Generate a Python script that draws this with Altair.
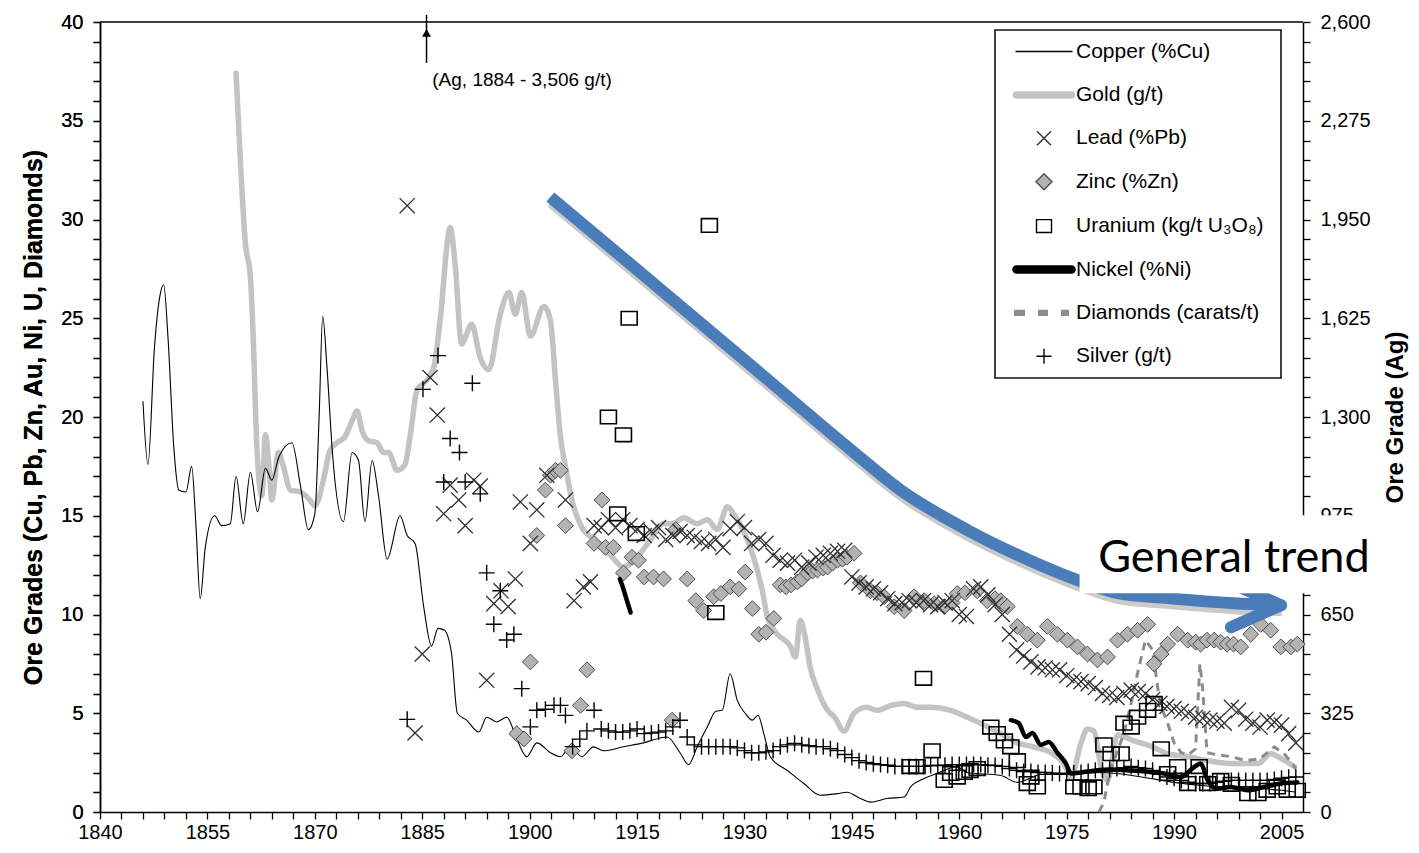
import altair as alt
import pandas as pd

# ---------------- data ----------------
series_names = ["Copper (%Cu)", "Gold (g/t)", "Lead (%Pb)", "Zinc (%Zn)",
                "Uranium  (kg/t U₃O₈)", "Nickel (%Ni)", "Diamonds (carats/t)", "Silver (g/t)"]

copper_points = [
    (1846.0, 20.8), (1846.7, 17.6), (1847.6, 23.5), (1848.4, 26.2), (1848.9, 26.7), (1849.5, 24.0),
    (1850.3, 18.5), (1851.0, 16.3), (1852.0, 16.2), (1852.8, 17.5), (1853.4, 14.5), (1854.0, 10.8),
    (1854.7, 13.4), (1856.0, 15.0), (1857.0, 14.5), (1858.2, 14.6), (1859.0, 17.0), (1860.0, 14.6),
    (1861.0, 17.2), (1862.0, 15.2), (1863.1, 17.4), (1864.0, 16.8), (1865.0, 18.0), (1866.8, 18.7),
    (1868.0, 16.5), (1869.1, 14.3), (1870.0, 15.1), (1870.6, 20.0), (1871.1, 25.1), (1871.7, 22.5),
    (1872.5, 18.0), (1874.0, 14.7), (1875.2, 18.2), (1876.1, 17.8), (1877.0, 14.7), (1878.0, 17.8),
    (1878.9, 16.0), (1880.1, 12.8), (1881.9, 15.0), (1882.9, 14.0), (1884.0, 13.6), (1885.2, 10.4),
    (1886.3, 8.4), (1887.2, 9.3), (1888.1, 9.2), (1889.1, 8.0), (1889.9, 5.0), (1891.2, 4.65),
    (1892.9, 4.05), (1894.0, 4.8), (1895.4, 4.56), (1896.8, 4.8), (1898.2, 3.7), (1899.6, 2.8),
    (1901.0, 3.5), (1902.9, 3.0), (1904.3, 2.8), (1905.7, 3.3), (1907.3, 2.8), (1908.9, 3.3),
    (1910.3, 3.1), (1913.1, 3.3), (1915.9, 3.5), (1919.2, 3.8), (1921.0, 3.0), (1922.2, 2.4),
    (1923.4, 3.3), (1924.8, 4.3), (1926.0, 5.1), (1926.9, 5.15), (1928.0, 7.0), (1929.0, 5.65),
    (1930.1, 5.0), (1931.1, 4.65), (1931.9, 4.9), (1932.7, 3.97), (1933.6, 2.8), (1936.0, 2.1),
    (1938.3, 1.44), (1940.6, 0.85), (1943.0, 0.93), (1944.3, 1.0), (1946.2, 0.68), (1947.6, 0.5),
    (1949.9, 0.68), (1952.3, 0.76), (1953.2, 1.27), (1955.1, 1.7), (1956.9, 1.95), (1959.7, 2.3),
    (1961.0, 2.0), (1965.8, 1.85), (1968.1, 1.5), (1971.4, 1.9), (1975.0, 1.9), (1980.0, 2.0),
    (1985.0, 1.8), (1990.0, 1.5), (1995.0, 1.3), (2000.0, 1.2), (2005.0, 1.1), (2007.0, 1.0),
]

gold_points = [
    (1859.0, 37.4), (1859.6, 33.0), (1860.3, 28.8), (1861.0, 27.1), (1861.4, 24.0), (1861.9, 18.5),
    (1862.6, 16.0), (1863.1, 19.1), (1863.6, 17.5), (1864.0, 15.8), (1864.9, 18.2), (1865.6, 17.5),
    (1866.6, 16.3), (1868.0, 16.2), (1869.3, 15.8), (1870.0, 15.5), (1871.2, 16.8), (1872.1, 18.3),
    (1873.1, 18.7), (1874.2, 19.0), (1875.2, 19.8), (1875.9, 20.3), (1876.6, 19.3), (1877.5, 18.8),
    (1878.7, 18.7), (1879.6, 18.2), (1880.3, 18.2), (1881.5, 17.3), (1882.6, 17.6), (1883.3, 19.0),
    (1884.3, 21.4), (1885.2, 21.7), (1886.6, 22.5), (1887.5, 24.9), (1888.9, 29.6), (1889.6, 27.7),
    (1890.5, 23.7), (1891.9, 24.7), (1893.1, 23.0), (1894.3, 22.4), (1895.9, 25.2), (1897.1, 26.3),
    (1898.0, 25.2), (1898.9, 26.3), (1900.1, 24.1), (1902.0, 25.6), (1902.9, 24.9), (1903.6, 21.9),
    (1904.3, 19.0), (1905.0, 17.5), (1905.9, 15.8), (1907.3, 14.4), (1909.0, 13.8), (1911.3, 13.0),
    (1913.1, 12.4), (1915.0, 12.9), (1916.9, 13.8), (1918.7, 14.6), (1920.0, 14.6), (1921.5, 14.9),
    (1923.4, 14.6), (1924.8, 14.8), (1926.2, 14.3), (1927.6, 15.45), (1928.5, 15.1), (1929.9, 14.2),
    (1931.0, 13.2), (1932.5, 11.2), (1933.2, 9.9), (1934.6, 9.0), (1936.4, 8.4), (1937.1, 7.85),
    (1937.8, 9.7), (1938.4, 9.0), (1939.2, 7.3), (1940.2, 6.2), (1941.6, 5.15), (1942.6, 4.8),
    (1943.9, 4.1), (1945.3, 5.0), (1947.0, 5.3), (1948.5, 5.15), (1950.5, 5.4), (1952.3, 5.5),
    (1954.1, 5.3), (1956.0, 5.3), (1958.8, 5.15), (1961.1, 4.8), (1963.5, 4.4), (1965.8, 3.97),
    (1968.1, 3.5), (1970.4, 3.3), (1972.8, 3.0), (1974.6, 2.45), (1975.6, 1.77), (1977.0, 3.5),
    (1977.9, 4.2), (1978.8, 4.1), (1979.8, 2.3), (1980.7, 1.6), (1982.1, 3.9), (1984.4, 3.6),
    (1987.0, 3.3), (1989.1, 2.95), (1992.0, 2.8), (1994.7, 2.6), (1998.0, 2.45), (2001.7, 2.45),
    (2003.5, 2.95), (2005.4, 2.6), (2006.8, 2.3),
]

lead_early_points = [
    (1882.9, 30.7), (1884.0, 4.0), (1885.0, 8.0), (1886.1, 22.0), (1887.1, 20.1), (1888.0, 15.1),
    (1888.9, 16.55), (1890.1, 15.8), (1891.0, 14.5), (1892.2, 16.8), (1893.1, 16.5), (1894.0, 6.67),
    (1895.0, 10.55), (1896.0, 11.2), (1897.0, 10.4), (1898.0, 11.8), (1898.7, 15.7), (1900.1, 13.6),
    (1901.0, 15.3), (1902.4, 17.05), (1905.0, 15.8), (1906.2, 10.7), (1907.5, 11.4), (1908.5, 11.65),
]
lead_annual_years = list(range(1909, 2008))
lead_annual_values = [
    14.5, 14.4, 14.8, 14.4, 14.8, 14.5, 14.3, 14.0, 14.2, 14.4,
    13.8, 14.0, 14.2, 14.0, 13.9, 13.7, 13.6, 13.8, 13.4, 14.35,
    14.7, 14.4, 13.6, 13.8, 13.6, 13.0, 12.75, 12.6, 12.75, 12.4,
    12.6, 12.9, 13.0, 13.1, 13.2, 13.25, 11.9, 11.6, 11.4, 11.3,
    11.1, 10.8, 10.55, 10.6, 10.7, 10.6, 10.7, 10.5, 10.4, 10.6,
    10.7, 10.0, 9.9, 11.3, 11.4, 11.0, 10.5, 10.0, 9.0, 8.2,
    7.9, 7.6, 7.35, 7.3, 7.2, 7.2, 6.9, 6.7, 6.6, 6.5,
    6.3, 6.0, 5.9, 5.8, 6.0, 6.17, 6.1, 6.0, 5.7, 5.5,
    5.35, 5.24, 5.1, 5.0, 4.8, 4.75, 4.65, 4.6, 4.5, 5.3,
    5.15, 4.7, 4.5, 4.3, 4.65, 4.55, 4.4, 3.97, 3.5,
]

zinc_points = [
    (1898.2, 3.97), (1899.2, 3.7), (1900.1, 7.6), (1901.0, 14.0), (1902.2, 16.3), (1902.9, 17.05),
    (1903.6, 17.3), (1904.3, 17.3), (1905.0, 14.5), (1905.9, 3.1), (1907.1, 5.4), (1908.0, 7.2),
    (1909.0, 13.6), (1910.1, 15.8), (1910.6, 13.4), (1911.7, 13.4), (1913.1, 12.1), (1914.3, 12.9),
    (1915.2, 12.75), (1916.0, 11.9), (1917.3, 11.9), (1918.7, 11.8), (1919.9, 4.65), (1920.4, 14.3),
    (1922.0, 11.8), (1923.2, 10.7), (1924.3, 10.2), (1925.7, 10.9), (1926.7, 11.06), (1928.0, 11.4),
    (1929.2, 11.3), (1930.1, 12.15), (1931.1, 10.3), (1932.0, 9.0), (1933.0, 9.1), (1934.1, 9.8),
    (1935.0, 11.5), (1935.8, 11.4), (1936.5, 11.5), (1937.4, 11.65), (1938.0, 11.8), (1938.8, 12.1),
    (1939.5, 12.2), (1940.2, 12.25), (1941.0, 12.35), (1941.6, 12.4), (1942.3, 12.6), (1943.0, 12.75),
    (1943.7, 12.8), (1944.3, 12.9), (1945.3, 13.1), (1946.2, 11.6), (1947.6, 11.2), (1948.5, 11.1),
    (1949.5, 10.9), (1950.9, 10.4), (1952.3, 10.2), (1953.7, 10.9), (1955.1, 10.7), (1956.5, 10.55),
    (1957.9, 10.4), (1959.0, 10.6), (1959.7, 11.06), (1960.8, 11.1), (1962.5, 11.2), (1963.9, 10.7),
    (1965.0, 10.8), (1965.8, 10.7), (1966.7, 10.4), (1968.1, 9.4), (1969.5, 9.0), (1970.9, 8.7),
    (1972.3, 9.4), (1973.7, 9.0), (1975.1, 8.7), (1976.5, 8.36), (1977.9, 8.0), (1979.3, 7.7),
    (1980.7, 7.85), (1982.1, 8.7), (1983.5, 9.0), (1984.9, 9.2), (1986.3, 9.5), (1987.2, 7.5),
    (1988.2, 8.0), (1989.1, 8.5), (1990.5, 9.0), (1991.9, 8.7), (1993.0, 8.6), (1993.7, 8.5),
    (1994.6, 8.7), (1995.6, 8.7), (1996.5, 8.6), (1997.4, 8.5), (1998.3, 8.5), (1999.3, 8.36),
    (2000.7, 9.0), (2002.1, 9.5), (2003.5, 9.2), (2004.9, 8.36), (2006.3, 8.36), (2007.2, 8.5),
]

uranium_points = [
    (1911.0, 20.0), (1912.3, 15.1), (1913.1, 19.1), (1913.9, 25.0), (1914.9, 14.1), (1925.1, 29.7),
    (1926.0, 10.1), (1955.0, 6.77), (1953.2, 2.3), (1954.1, 2.3), (1956.2, 3.1), (1957.9, 1.6),
    (1958.8, 1.95), (1959.7, 1.77), (1960.7, 2.0), (1961.5, 2.1), (1962.5, 2.2), (1964.4, 4.3),
    (1965.3, 3.97), (1966.3, 3.6), (1967.2, 3.3), (1968.1, 2.6), (1969.5, 1.44), (1970.0, 1.77),
    (1970.9, 1.27), (1976.0, 1.27), (1977.0, 1.27), (1978.0, 1.18), (1978.8, 1.27), (1980.2, 3.4),
    (1981.2, 2.95), (1982.6, 2.95), (1983.0, 4.5), (1984.0, 4.3), (1984.9, 4.8), (1986.3, 5.15),
    (1987.2, 5.5), (1988.2, 3.2), (1989.1, 1.95), (1990.5, 2.3), (1991.9, 1.44), (1993.5, 2.3),
    (1994.7, 1.44), (1996.5, 1.6), (1998.0, 1.4), (2000.3, 0.93), (2001.7, 0.93), (2003.0, 1.1),
    (2004.4, 1.27), (2005.8, 1.1), (2007.2, 1.1),
]

nickel_points = [
    ("a", 1912.6, 11.8), ("a", 1913.0, 11.4), ("a", 1913.5, 10.8), ("a", 1914.1, 10.1),
    ("b", 1967.2, 4.65), ("b", 1968.3, 4.5), ("b", 1969.3, 3.8), ("b", 1970.2, 4.0), ("b", 1971.4, 3.4),
    ("b", 1972.5, 3.55), ("b", 1973.7, 3.0), ("b", 1974.9, 2.45), ("b", 1975.6, 1.95), ("b", 1977.0, 2.0),
    ("b", 1979.0, 2.1), ("b", 1981.0, 2.15), ("b", 1984.0, 2.1), ("b", 1986.0, 2.05), ("b", 1988.6, 1.95),
    ("b", 1991.0, 1.77), ("b", 1992.8, 2.28), ("b", 1993.7, 2.45), ("b", 1994.7, 1.6), ("b", 1996.0, 1.18),
    ("b", 1997.9, 1.27), ("b", 2000.3, 1.1), ("b", 2002.6, 1.27), ("b", 2004.9, 1.44), ("b", 2007.2, 1.5),
]

diamond_points = [
    (1979.5, 0.0), (1980.2, 0.5), (1981.0, 2.0), (1982.0, 3.0), (1983.0, 4.0), (1984.0, 5.5),
    (1985.0, 7.2), (1986.0, 8.7), (1987.0, 8.2), (1988.0, 5.5), (1989.0, 4.6), (1990.0, 3.5),
    (1991.0, 3.0), (1992.0, 2.9), (1993.0, 3.2), (1993.6, 7.5), (1994.0, 6.2), (1994.6, 3.0),
    (1996.0, 2.9), (1998.0, 2.8), (2000.0, 2.6), (2002.0, 2.7), (2004.0, 3.3), (2005.5, 2.9),
    (2007.0, 2.2),
]

# silver in g/t (right axis)
silver_early_points = [
    (1882.9, 305), (1885.1, 1391), (1887.2, 1502), (1888.0, 1086), (1888.9, 1229), (1890.2, 1183),
    (1891.0, 1086), (1892.0, 1411), (1893.1, 1047), (1894.0, 787), (1895.0, 618), (1895.9, 728),
    (1896.8, 566), (1897.8, 585), (1898.9, 406), (1900.1, 280), (1901.0, 335), (1902.2, 338),
    (1903.4, 351), (1904.3, 351),
]
silver_annual_years = list(range(1905, 2008))
silver_annual_values = [
    318, 215, 240, 267, 335, 273, 267, 263, 263, 267,
    273, 258, 260, 263, 267, 280, 302, 247, 221, 215,
    215, 215, 215, 215, 211, 202, 195, 195, 198, 202,
    215, 221, 226, 221, 218, 215, 215, 208, 202, 189,
    179, 169, 163, 159, 156, 154, 150, 150, 150, 150,
    150, 153, 153, 154, 156, 156, 156, 156, 156, 154,
    153, 150, 143, 137, 133, 133, 130, 130, 128, 127,
    127, 128, 130, 133, 137, 137, 140, 143, 146, 150,
    146, 143, 137, 124, 115, 111, 104, 98, 94, 94,
    94, 98, 101, 104, 104, 104, 104, 104, 104, 107,
    111, 114, 115,
]

# "General trend" annotation arrow (in left-axis units)
trend_points = [
    (1902.89, 31.14), (1916.87, 26.89), (1930.85, 22.63), (1944.40, 18.48), (1951.81, 16.30),
    (1961.17, 14.27), (1970.40, 12.65), (1976.55, 11.74), (1982.14, 11.08), (1989.13, 10.83),
    (1998.35, 10.57), (2004.92, 10.47),
]
trend_barbs = [("lo", 1997.93, 9.36), ("lo", 2004.92, 10.47), ("up", 1997.93, 11.58), ("up", 2004.92, 10.47)]
trend_box = [(1976.8, 2019.6, 11.08, 15.03)]
trend_label = [(1998.35, 12.14, "General trend")]

ag_note = [(1886.4, 37.07, "(Ag, 1884 - 3,506 g/t)")]
ag_arrow = [(1885.6, 37.93, 40.36)]
ag_head = [(1885.6, 39.45)]
frame_top = [(1840, 2008, 40)]

x_ticks = list(range(1840, 2008, 3))
yl_ticks = list(range(0, 41))
yr_ticks = list(range(0, 2601, 65))

# ---------------- tables ----------------
copper_df = pd.DataFrame(copper_points, columns=["year", "v"])
gold_df = pd.DataFrame(gold_points, columns=["year", "v"])
lead_df = pd.concat([pd.DataFrame(lead_early_points, columns=["year", "v"]),
                     pd.DataFrame({"year": lead_annual_years, "v": lead_annual_values})])
zinc_df = pd.DataFrame(zinc_points, columns=["year", "v"])
uranium_df = pd.DataFrame(uranium_points, columns=["year", "v"])
nickel_df = pd.DataFrame(nickel_points, columns=["seg", "year", "v"])
diamond_df = pd.DataFrame(diamond_points, columns=["year", "v"])
silver_df = pd.concat([pd.DataFrame(silver_early_points, columns=["year", "ag"]),
                       pd.DataFrame({"year": silver_annual_years, "ag": silver_annual_values})])
trend_df = pd.DataFrame(trend_points, columns=["year", "v"])
barb_df = pd.DataFrame(trend_barbs, columns=["part", "year", "v"])
box_df = pd.DataFrame(trend_box, columns=["x0", "x1", "y0", "y1"])
tlabel_df = pd.DataFrame(trend_label, columns=["year", "v", "t"])
note_df = pd.DataFrame(ag_note, columns=["year", "v", "t"])
arrow_df = pd.DataFrame(ag_arrow, columns=["year", "v0", "v1"])
head_df = pd.DataFrame(ag_head, columns=["year", "v"])
frame_df = pd.DataFrame(frame_top, columns=["x0", "x1", "v"])
legend_df = pd.DataFrame({"series": series_names})

# ---------------- scales & axes ----------------
FONT = "Liberation Sans"
XSCALE = alt.Scale(domain=[1840, 2008], nice=False, zero=False)
XAXIS = alt.Axis(values=x_ticks, format="d",
                 labelExpr="(datum.value - 1840) % 15 === 0 ? datum.label : ''",
                 title=None, grid=False, tickSize=7, tickWidth=1.3, tickColor="#000",
                 domainColor="#000", domainWidth=1.5, labelFontSize=20, labelColor="#000",
                 labelPadding=3, labelOverlap=False, labelFlush=False, zindex=0)
YSCALE = alt.Scale(domain=[0, 40], nice=False, zero=True)
YAXIS = alt.Axis(values=yl_ticks, labelExpr="datum.value % 5 === 0 ? datum.label : ''",
                 title="Ore Grades (Cu, Pb, Zn, Au, Ni, U, Diamonds)", titleFontSize=25,
                 titleFontWeight="bold", titleColor="#000", titlePadding=14, grid=False,
                 tickSize=7, tickWidth=1.3, tickColor="#000", domainColor="#000", domainWidth=1.5,
                 labelFontSize=20, labelColor="#000", labelPadding=10, labelOverlap=False,
                 labelFlush=False, zindex=0)
YRSCALE = alt.Scale(domain=[0, 2600], nice=False, zero=True)
YRAXIS = alt.Axis(orient="right", values=yr_ticks,
                  labelExpr="datum.value % 325 === 0 ? format(datum.value, ',') : ''",
                  title="Ore Grade (Ag)", titleAngle=270, titleBaseline="top", titleFontSize=24,
                  titleFontWeight="bold", titleColor="#000", titlePadding=13, grid=False, tickSize=7,
                  tickWidth=1.3, tickColor="#000", domainColor="#000", domainWidth=1.5,
                  labelFontSize=20, labelColor="#000", labelPadding=10, labelOverlap=False,
                  labelFlush=False, zindex=0)


def X(f):
    return alt.X(f + ":Q", scale=XSCALE, axis=XAXIS)


def Y(f):
    return alt.Y(f + ":Q", scale=YSCALE, axis=YAXIS)


X_PATH = "M-1,-1L1,1M-1,1L1,-1"
PLUS_PATH = "M-1,0L1,0M0,-1L0,1"
DIAM_PATH = "M0,-1L1,0L0,1L-1,0Z"
SQ_PATH = "M-1,-0.85L1,-0.85L1,0.85L-1,0.85Z"

# ---------------- layers ----------------
gold = alt.Chart(gold_df).mark_line(color="#c3c3c3", strokeWidth=5.5, interpolate="monotone",
                                    strokeCap="round", strokeJoin="round").encode(x=X("year"), y=Y("v"))
copper = alt.Chart(copper_df).mark_line(color="#000", strokeWidth=1.1, interpolate="monotone").encode(
    x=X("year"), y=Y("v"))
diamonds = alt.Chart(diamond_df).mark_line(color="#8c8c8c", strokeWidth=3, strokeDash=[8, 6]).encode(
    x=X("year"), y=Y("v"))
zinc = alt.Chart(zinc_df).mark_point(shape=DIAM_PATH, size=250, filled=True, fill="#b3b3b3",
                                     stroke="#4d4d4d", strokeWidth=1, opacity=1).encode(x=X("year"), y=Y("v"))
lead = alt.Chart(lead_df).mark_point(shape=X_PATH, size=230, filled=False, color="#303030",
                                     strokeWidth=1.3, opacity=1).encode(x=X("year"), y=Y("v"))
uranium = alt.Chart(uranium_df).mark_point(shape=SQ_PATH, size=256, filled=False, color="#000",
                                           strokeWidth=1.6, opacity=1).encode(x=X("year"), y=Y("v"))
nickel = alt.Chart(nickel_df).mark_line(color="#000", strokeWidth=4.5, interpolate="monotone",
                                        strokeCap="round").encode(x=X("year"), y=Y("v"), detail="seg:N")
shadow = alt.Chart(trend_df).mark_line(color="#bdbdbd", strokeWidth=12, interpolate="monotone",
                                       xOffset=1, yOffset=5, opacity=0.8).encode(x=X("year"), y=Y("v"))
trend = alt.Chart(trend_df).mark_line(color="#4a7cba", strokeWidth=12, interpolate="monotone",
                                      strokeCap="butt").encode(x=X("year"), y=Y("v"))
barbs = alt.Chart(barb_df).mark_line(color="#4a7cba", strokeWidth=12, strokeCap="round").encode(
    x=X("year"), y=Y("v"), detail="part:N")
box = alt.Chart(box_df).mark_rect(color="white", clip=False).encode(
    x=X("x0"), x2="x1", y=Y("y0"), y2="y1")
tlabel = alt.Chart(tlabel_df).mark_text(font="Lato", fontSize=45, color="#000", align="center",
                                        baseline="alphabetic").encode(x=X("year"), y=Y("v"), text="t:N")
note = alt.Chart(note_df).mark_text(font=FONT, fontSize=19, color="#000", align="left",
                                    baseline="middle").encode(x=X("year"), y=Y("v"), text="t:N")
arrow = alt.Chart(arrow_df).mark_rule(color="#000", strokeWidth=1.5, clip=False).encode(
    x=X("year"), y=Y("v0"), y2="v1")
head = alt.Chart(head_df).mark_point(shape="triangle-up", size=80, filled=True, color="#000",
                                     opacity=1).encode(x=X("year"), y=Y("v"))
frame = alt.Chart(frame_df).mark_rule(color="#000", strokeWidth=1.5).encode(
    x=X("x0"), x2="x1", y=Y("v"))

# legend symbols: unit = 9.5 px (symbolSize 361)
legend_shapes = [
    "M-3,0L3,0",
    "M-2.9,-0.32L2.9,-0.32A0.32,0.32 0 0 1 2.9,0.32L-2.9,0.32A0.32,0.32 0 0 1 -2.9,-0.32Z",
    "M-0.74,-0.74L0.74,0.74M-0.74,0.74L0.74,-0.74",
    "M0,-0.84L0.84,0L0,0.84L-0.84,0Z",
    "M-0.79,-0.68L0.79,-0.68L0.79,0.68L-0.79,0.68Z",
    "M-2.9,-0.37L2.9,-0.37A0.37,0.37 0 0 1 2.9,0.37L-2.9,0.37A0.37,0.37 0 0 1 -2.9,-0.37Z",
    "M-3.16,-0.32L-2.0,-0.32L-2.0,0.32L-3.16,0.32Z M-0.63,-0.32L0.42,-0.32L0.42,0.32L-0.63,0.32Z M1.79,-0.32L2.63,-0.32L2.63,0.32L1.79,0.32Z",
    "M-0.79,0L0.79,0M0,-0.79L0,0.79",
]
legend_fills = ["transparent", "#c3c3c3", "transparent", "#b3b3b3", "white", "#000", "#8c8c8c", "transparent"]
legend_strokes = ["#000", "#c3c3c3", "#303030", "#4d4d4d", "#000", "#000", "transparent", "#000"]

legend_layer = alt.Chart(legend_df).transform_filter("false").mark_point(opacity=1, strokeWidth=1.4).encode(
    shape=alt.Shape("series:N", scale=alt.Scale(domain=series_names, range=legend_shapes),
                    legend=alt.Legend(title=None)),
    fill=alt.Fill("series:N", scale=alt.Scale(domain=series_names, range=legend_fills),
                  legend=alt.Legend(title=None)),
    stroke=alt.Stroke("series:N", scale=alt.Scale(domain=series_names, range=legend_strokes),
                      legend=alt.Legend(title=None)),
)

left = alt.layer(gold, copper, diamonds, zinc, lead, uranium, nickel, frame, arrow, head, note,
                 legend_layer)
silver = alt.Chart(silver_df).mark_point(shape=PLUS_PATH, size=256, filled=False, color="#000",
                                         strokeWidth=1.4, opacity=1).encode(
    x=X("year"), y=alt.Y("ag:Q", scale=YRSCALE, axis=YRAXIS))
overlay = alt.layer(shadow, trend, barbs, box, tlabel)

chart = alt.layer(left, silver, overlay).resolve_scale(y="independent").properties(
    width=1203, height=790,
    autosize=alt.AutoSizeParams(type="none"),
    padding={"left": 92, "top": 14, "right": 108, "bottom": 33},
).configure(font=FONT).configure_view(stroke="transparent").configure_legend(
    orient="none", legendX=895, legendY=8, strokeColor="#111", strokeWidth=1.6, fillColor="white",
    padding=11, symbolSize=361, symbolStrokeWidth=1.4, labelFont=FONT, labelFontSize=21,
    labelColor="#000", labelOffset=21.5, symbolOffset=27.5, rowPadding=21.4, labelLimit=400,
)

chart.save("out.html", embed_options={"renderer": "svg", "actions": False})
